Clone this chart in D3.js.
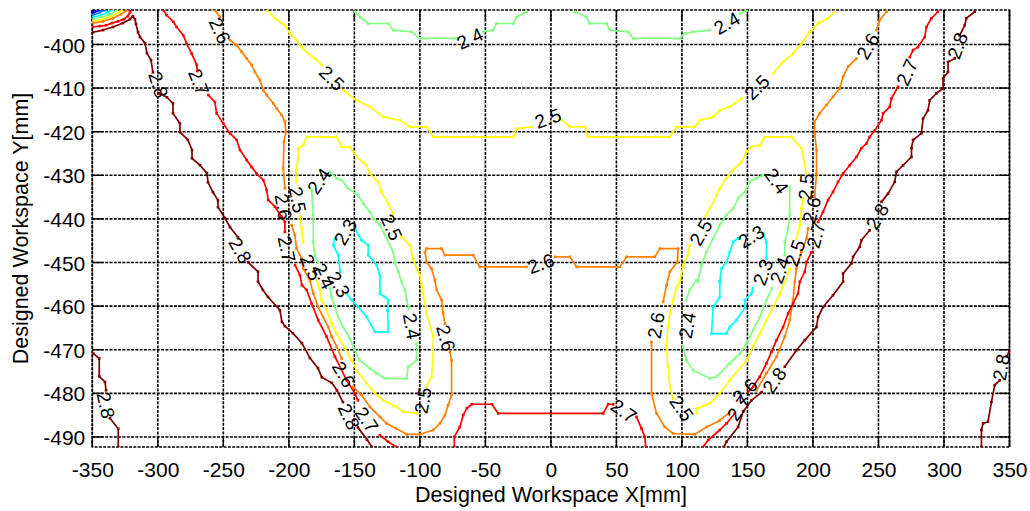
<!DOCTYPE html>
<html><head><meta charset="utf-8">
<script src="https://cdn.jsdelivr.net/npm/d3@7"></script>
<style>
body{margin:0;background:#fff}
text{font-family:"Liberation Sans",Arial,Helvetica,sans-serif;fill:#000}
</style>
</head><body>
<svg id="chart" width="1030" height="511"></svg>
<script>
// Axis ticks
const xTickValues = [-350,-300,-250,-200,-150,-100,-50,0,50,100,150,200,250,300,350];
const yTickValues = [-400,-410,-420,-430,-440,-450,-460,-470,-480,-490];
const xExtent = [-350, 350];
const yExtent = [-492.3, -392.1];
const levelMin = 2.0, levelMax = 2.8;

// Contour lines in workspace coordinates [x mm, y mm]; each line is split into
// pieces where its inline value label sits.
const c20Corner = [[[-349.5,-392.4],[-348.0,-392.1]]];
const c21Corner = [[[-349.5,-392.8],[-344.1,-392.1]]];
const c22Corner = [[[-349.5,-393.3],[-344.1,-392.6],[-339.5,-392.1]]];
const c23Corner = [[[-349.5,-393.7],[-343.4,-393.3],[-338.0,-392.6],[-335.0,-392.1]]];
const c24Corner = [[[-349.5,-394.2],[-342.6,-393.7],[-336.5,-393.1],[-331.2,-392.1]]];
const c25Corner = [[[-349.5,-394.7],[-341.8,-394.2],[-335.0,-393.5],[-329.6,-392.6],[-327.4,-392.1]]];
const c26Corner = [[[-349.5,-395.1],[-341.8,-394.7],[-334.2,-394.0],[-328.1,-393.1],[-323.5,-392.1]]];
const c27Corner = [[[-349.5,-396.0],[-344.1,-395.8],[-339.5,-395.6],[-335.0,-395.1],[-330.4,-394.7],[-325.8,-394.2],[-322.8,-393.5],[-321.2,-392.6],[-320.8,-392.1]]];

const c28Left = [
  [[-349.5,-397.2],[-341.8,-396.7],[-334.2,-396.0],[-326.6,-395.1],[-321.2,-394.2],[-319.0,-393.5],[-317.4,-394.2],[-316.7,-395.3],[-315.1,-397.2],[-313.6,-398.3],[-309.8,-399.7],[-308.3,-402.0],[-305.2,-403.6],[-303.7,-406.4]],
  [[-299.1,-411.2],[-293.0,-412.1],[-288.4,-413.5],[-288.4,-415.8],[-283.1,-418.1],[-283.1,-420.1],[-277.0,-421.9],[-273.9,-424.2],[-273.9,-426.1],[-267.8,-427.7],[-262.5,-429.5],[-261.7,-431.6],[-257.9,-433.9],[-254.1,-435.7],[-254.1,-437.3],[-248.8,-439.8],[-244.9,-441.9],[-238.8,-444.2]],
  [[-231.2,-449.9],[-223.5,-452.1],[-223.5,-454.4],[-219.8,-456.3],[-215.9,-457.9],[-206.8,-460.9],[-205.3,-463.6],[-203.0,-464.6],[-196.9,-466.2],[-190.0,-468.5],[-183.9,-471.9],[-177.8,-474.2],[-174.8,-476.3],[-167.2,-477.6],[-163.3,-479.3],[-158.7,-482.0]],
  [[-147.3,-487.8],[-140.4,-490.6],[-136.6,-492.3]]
];
const c28LeftEdge = [
  [[-349.2,-470.9],[-344.7,-472.0],[-344.7,-476.1],[-340.3,-477.4],[-339.5,-479.3]],
  [[-336.5,-485.7],[-330.2,-488.1],[-330.2,-492.3]]
];
const c28Right = [
  [[323.5,-392.5],[317.1,-394.0],[315.8,-395.6],[312.0,-397.9]],
  [[308.2,-403.2],[303.1,-404.0],[303.1,-406.3],[299.3,-407.8],[299.3,-410.1],[294.2,-411.2],[289.1,-412.8],[287.8,-415.1],[284.0,-417.0],[282.8,-420.4],[276.4,-421.9],[275.2,-423.8],[275.2,-425.8],[268.8,-427.7],[263.7,-429.2],[262.4,-431.5],[257.3,-434.2],[252.3,-436.1]],
  [[243.3,-442.6],[237.0,-444.9],[235.7,-446.4],[230.6,-448.7],[229.4,-450.2],[223.0,-452.5],[223.0,-454.4],[215.3,-457.5],[207.7,-460.2],[203.9,-462.5],[202.7,-464.8],[193.8,-467.8],[187.4,-470.1],[178.5,-473.9]],
  [[160.9,-479.7],[153.1,-481.6],[146.7,-484.2],[142.9,-487.7],[134.0,-491.1],[132.0,-492.3]]
];
const c28RightEdge = [
  [[349.8,-470.3],[348.0,-471.5]],
  [[342.5,-477.0],[338.7,-478.1],[336.2,-482.0],[333.6,-486.5],[329.8,-486.9],[328.6,-488.4],[328.6,-492.3]]
];

const c27Left = [
  [[-295.8,-392.1],[-293.2,-393.3],[-288.2,-394.8],[-285.6,-396.0],[-280.6,-397.9],[-278.0,-399.8],[-274.2,-402.1],[-270.3,-404.7],[-269.9,-406.1]],
  [[-261.5,-411.6],[-256.4,-413.2],[-255.1,-415.8],[-250.1,-418.1],[-244.9,-420.4],[-239.8,-421.9],[-237.3,-424.2],[-232.2,-426.5],[-228.4,-428.1],[-224.6,-429.6],[-219.5,-431.1],[-216.9,-433.4],[-215.7,-435.7],[-210.6,-437.2],[-205.5,-439.5],[-203.0,-440.7],[-203.0,-443.0]],
  [[-195.3,-450.6],[-191.5,-452.9],[-190.0,-455.2],[-186.4,-456.3],[-182.6,-459.4],[-177.6,-463.2],[-171.2,-467.0],[-164.8,-471.6],[-155.9,-477.0],[-149.6,-480.0],[-147.3,-481.6]],
  [[-130.5,-489.6],[-124.2,-491.1],[-117.8,-492.3]]
];
const c27Middle = [
  [[-73.7,-492.3],[-73.7,-490.0],[-69.5,-487.7],[-66.9,-485.0],[-64.1,-483.4],[-60.3,-482.5],[-45.0,-482.5],[-40.2,-484.6],[39.9,-484.6],[43.7,-482.5],[47.5,-482.5]],
  [[65.3,-485.4],[69.2,-488.1],[71.7,-490.0],[72.4,-492.3]]
];
const c27Right = [
  [[295.4,-392.5],[290.4,-394.0],[286.6,-396.0],[285.3,-398.3],[280.2,-400.6],[276.4,-401.3],[273.9,-402.9]],
  [[264.9,-409.7],[259.9,-412.4],[258.6,-414.3],[253.5,-415.8],[252.3,-417.4],[247.2,-419.7],[243.3,-421.2],[240.8,-422.7],[237.0,-423.8],[233.2,-425.8],[228.1,-427.7],[223.0,-429.6],[219.2,-431.5],[215.3,-433.8],[211.5,-435.7],[207.7,-438.4],[203.9,-440.7]],
  [[198.9,-447.6],[195.1,-449.9],[193.8,-452.1],[190.0,-454.4],[188.6,-457.1],[184.8,-459.4],[181.0,-461.7],[177.2,-464.8],[172.2,-467.8],[168.3,-470.5],[164.5,-473.1],[159.4,-476.2],[154.3,-478.5],[150.5,-479.7]],
  [[140.3,-484.6],[134.0,-486.9],[128.9,-488.4],[120.0,-490.7],[116.2,-492.3]]
];

const c26Main = [
  [[-256.4,-392.1],[-252.6,-393.7]],
  [[-244.9,-399.0],[-239.8,-400.2],[-236.0,-401.7],[-232.2,-403.2],[-228.4,-404.7],[-225.9,-406.3],[-222.0,-408.2],[-219.5,-410.5],[-216.9,-411.6],[-211.9,-413.5],[-209.3,-414.7],[-205.5,-416.2],[-203.0,-417.7],[-202.2,-420.0],[-203.7,-422.3],[-204.3,-428.4],[-203.0,-433.0]],
  [[-197.9,-441.4],[-195.4,-443.7],[-194.1,-446.8],[-190.2,-449.1],[-189.0,-451.4],[-183.9,-454.1],[-181.4,-457.1],[-177.6,-460.2],[-173.8,-462.5],[-169.9,-464.8],[-167.3,-467.0],[-163.5,-469.3],[-159.7,-472.0]],
  [[-150.9,-478.5],[-144.5,-480.4],[-138.1,-483.1],[-130.5,-485.4],[-125.4,-486.9],[-117.8,-488.1],[-110.1,-489.4],[-100.0,-489.4],[-89.8,-488.4],[-84.7,-486.9],[-80.9,-485.0],[-78.4,-482.7],[-75.8,-480.4],[-75.8,-472.4],[-77.1,-470.5]],
  [[-80.9,-464.0],[-82.2,-461.7],[-83.4,-458.6],[-87.2,-456.3],[-88.5,-454.1],[-91.1,-451.4],[-94.9,-449.9],[-96.1,-447.6],[-94.9,-446.8],[-83.4,-446.8],[-80.9,-448.3],[-59.3,-448.3],[-54.2,-451.0],[-18.6,-451.0]],
  [[3.1,-448.7],[14.5,-448.7],[19.6,-451.0],[52.6,-451.0],[57.7,-448.7],[79.3,-448.7],[83.2,-446.8],[97.1,-446.8],[96.5,-449.9],[90.8,-452.1],[88.2,-455.2],[85.7,-459.0]],
  [[76.8,-468.2],[76.8,-480.0],[80.6,-484.6],[86.9,-487.7],[93.3,-489.2],[109.8,-489.4],[118.8,-487.7],[128.9,-486.2],[136.5,-484.3]],
  [[156.9,-479.3],[164.5,-475.4],[172.2,-471.6],[178.5,-467.0],[182.3,-463.2],[184.8,-458.6],[186.1,-454.4],[187.4,-451.4],[191.2,-447.6],[195.1,-444.5],[196.3,-442.2]],
  [[201.3,-434.9],[202.7,-429.6],[202.7,-424.2],[201.3,-420.4],[201.3,-417.7],[205.1,-415.8],[210.3,-413.9],[215.3,-412.0],[220.4,-410.1],[223.0,-407.4],[226.8,-405.1],[233.2,-403.2]],
  [[248.5,-396.7],[251.0,-394.4],[256.1,-392.5]]
];

const c25Top = [
  [[-216.9,-392.1],[-210.6,-394.0],[-203.0,-395.6],[-199.2,-397.5],[-194.1,-399.0],[-190.2,-400.6],[-185.2,-402.1],[-180.1,-403.2],[-175.0,-404.7]],
  [[-158.5,-410.5],[-148.3,-412.8],[-138.1,-414.3],[-128.0,-416.6],[-115.2,-417.4],[-107.6,-418.9],[-94.9,-418.9],[-89.8,-421.2],[-28.8,-421.2],[-26.2,-419.3],[-14.8,-418.9]],
  [[6.8,-417.0],[14.5,-418.9],[25.9,-418.9],[28.4,-421.2],[90.8,-421.2],[95.9,-418.9],[109.8,-418.9],[113.6,-417.4],[123.8,-416.6],[128.9,-415.1],[136.5,-414.3],[145.5,-412.4]],
  [[169.6,-406.6],[177.2,-404.0],[184.8,-402.1],[191.2,-399.8],[197.6,-397.1],[203.9,-395.2],[211.5,-394.0],[216.6,-392.5]]
];
const c25LeftLobe = [
  [[-189.0,-445.3],[-190.2,-442.2],[-191.5,-439.5]],
  [[-194.4,-431.5],[-194.6,-428.8],[-192.8,-426.1],[-192.8,-423.8],[-189.0,-423.1],[-186.4,-421.2],[-163.5,-421.2],[-159.7,-423.5],[-153.4,-423.5],[-148.3,-425.8],[-140.6,-427.7],[-138.1,-429.6],[-131.8,-431.5],[-129.2,-433.8],[-124.2,-436.5],[-120.4,-438.8]],
  [[-113.9,-444.1],[-107.6,-446.0],[-105.1,-449.1],[-102.5,-451.4],[-100.0,-452.9],[-98.7,-455.2],[-97.5,-457.1],[-94.9,-461.7],[-89.8,-467.0],[-90.1,-472.4],[-91.1,-476.2],[-94.9,-478.5]],
  [[-102.5,-484.6],[-112.7,-484.2],[-117.8,-483.1],[-128.0,-481.6],[-134.3,-480.0],[-140.6,-477.7],[-148.3,-474.7],[-152.1,-472.4],[-157.2,-469.7],[-163.5,-466.3],[-167.3,-464.0],[-171.2,-460.9],[-175.0,-458.6],[-176.3,-456.3],[-178.8,-454.1]]
];
const c25RightLobe = [
  [[117.5,-439.5],[121.3,-437.6],[126.4,-434.6],[128.9,-433.0],[134.0,-430.7],[139.1,-428.8],[145.5,-426.9],[149.3,-424.6],[153.1,-423.5],[159.4,-423.1],[163.2,-421.2],[183.6,-421.2],[191.2,-423.8],[193.8,-427.7],[195.1,-430.0]],
  [[192.4,-435.3],[191.2,-437.6],[190.0,-441.4],[187.4,-444.5]],
  [[182.3,-451.4],[179.8,-453.7],[174.7,-457.1],[169.6,-460.2],[164.5,-463.2],[159.4,-466.3],[154.3,-469.3],[149.3,-472.4],[136.5,-477.0],[128.9,-480.0],[121.3,-482.3],[111.1,-483.5],[111.1,-484.6]],
  [[93.3,-481.2],[90.8,-478.5],[89.3,-473.9],[88.1,-469.3],[89.3,-464.8],[90.8,-461.7],[93.3,-458.6],[95.9,-455.6],[98.4,-454.4],[100.9,-450.6],[104.7,-448.3],[106.0,-446.0]]
];

const c24Top = [
  [[-149.6,-392.5],[-145.8,-393.7],[-139.4,-395.2],[-124.2,-395.2],[-120.4,-396.7],[-106.3,-397.1],[-100.0,-398.6],[-72.0,-398.6]],
  [[-51.7,-397.1],[-44.1,-396.7],[-41.5,-395.2],[-28.8,-395.2],[-26.2,-393.7],[-18.6,-392.5]],
  [[18.3,-392.5],[27.2,-393.7],[29.7,-395.2],[42.5,-395.2],[45.0,-396.7],[58.9,-397.1],[62.8,-398.6],[98.4,-398.6],[102.2,-397.5],[108.5,-397.1],[121.3,-396.7]],
  [[144.2,-392.9],[149.3,-392.3]]
];
const c24LeftLobe = [
  [[-168.6,-429.2],[-163.5,-430.7],[-159.7,-431.1],[-154.7,-433.0],[-147.1,-434.6],[-143.2,-436.5],[-138.1,-438.4],[-135.6,-439.9],[-130.5,-441.4],[-126.7,-443.7],[-122.9,-446.0],[-120.4,-447.6],[-119.1,-449.9],[-116.5,-452.1],[-113.9,-454.4],[-111.4,-456.3],[-110.1,-458.6],[-108.4,-460.5]],
  [[-102.5,-468.6],[-102.5,-472.4],[-108.9,-473.9],[-110.1,-476.6],[-126.7,-476.6],[-133.0,-475.4],[-138.1,-474.3],[-145.8,-472.4],[-149.6,-470.1],[-153.4,-467.4],[-158.5,-464.8],[-162.3,-462.5],[-164.8,-460.2],[-167.3,-457.9],[-168.6,-455.9]],
  [[-177.8,-449.9],[-180.1,-448.3],[-181.4,-445.3],[-181.4,-439.1],[-182.6,-433.4]]
];
const c24RightLobe = [
  [[112.3,-454.4],[114.9,-450.6],[118.8,-447.6],[123.8,-444.5],[128.9,-441.4],[134.0,-439.1],[139.1,-437.6],[142.9,-435.3],[148.0,-433.8],[151.8,-431.5],[156.9,-430.7],[161.9,-430.0]],
  [[182.3,-432.7],[182.3,-439.1],[181.0,-442.2],[178.5,-445.3],[178.5,-448.3]],
  [[168.6,-455.9],[164.5,-458.6],[159.4,-462.5],[154.3,-465.5],[149.3,-468.6],[144.2,-470.9],[136.5,-473.1],[126.4,-476.2],[121.3,-476.6],[108.5,-474.7],[103.4,-472.4],[100.9,-469.3]],
  [[103.4,-458.6],[105.9,-456.3],[111.1,-454.0],[112.3,-454.4]]
];

const c23LeftLobe = [
  [[-149.6,-442.2],[-144.5,-444.9],[-139.4,-446.0],[-139.4,-448.3],[-133.0,-450.6],[-130.5,-452.9],[-130.5,-457.1],[-126.7,-457.9],[-124.2,-458.6],[-124.6,-461.0],[-124.2,-465.9],[-134.3,-465.9],[-140.6,-462.5],[-147.1,-460.2],[-152.1,-458.6],[-155.9,-457.1]],
  [[-160.8,-452.1],[-162.3,-448.3],[-166.1,-446.0],[-164.8,-444.5]]
];
const c23RightLobe = [
  [[128.9,-454.4],[130.2,-451.4],[134.0,-449.9],[136.5,-447.6],[139.1,-445.3],[142.9,-444.5]],
  [[161.9,-443.3],[164.5,-445.3],[164.5,-449.1]],
  [[154.1,-455.9],[153.1,-457.1],[148.0,-458.6],[148.0,-460.5],[141.6,-463.2],[136.5,-464.8],[134.0,-466.3],[122.6,-466.3],[123.8,-460.2],[128.9,-457.9],[128.9,-454.4]]
];

const contourLines = [
  {level: 2.0, pieces: c20Corner},
  {level: 2.1, pieces: c21Corner},
  {level: 2.2, pieces: c22Corner},
  {level: 2.3, pieces: c23Corner},
  {level: 2.3, pieces: c23LeftLobe},
  {level: 2.3, pieces: c23RightLobe},
  {level: 2.4, pieces: c24Corner},
  {level: 2.4, pieces: c24Top},
  {level: 2.4, pieces: c24LeftLobe},
  {level: 2.4, pieces: c24RightLobe},
  {level: 2.5, pieces: c25Corner},
  {level: 2.5, pieces: c25Top},
  {level: 2.5, pieces: c25LeftLobe},
  {level: 2.5, pieces: c25RightLobe},
  {level: 2.6, pieces: c26Corner},
  {level: 2.6, pieces: c26Main},
  {level: 2.7, pieces: c27Corner},
  {level: 2.7, pieces: c27Left},
  {level: 2.7, pieces: c27Middle},
  {level: 2.7, pieces: c27Right},
  {level: 2.8, pieces: c28Left},
  {level: 2.8, pieces: c28LeftEdge},
  {level: 2.8, pieces: c28Right},
  {level: 2.8, pieces: c28RightEdge}
];

// Inline labels: [x, y, text angle in degrees, value]
const contourLabels = [
  [-299.5,-409.2, 72, 2.8], [-237.0,-447.2, 60, 2.8], [-154.0,-485.3, 65, 2.8], [-339.5,-482.7, 78, 2.8],
  [310.2,-400.3, -70, 2.8], [249.0,-439.4, -60, 2.8], [170.5,-477.0, -55, 2.8], [343.5,-474.0, -80, 2.8],
  [-268.6,-408.6, 68, 2.7], [-201.5,-446.9, 78, 2.7], [-140.4,-486.0, 55, 2.7], [55.7,-484.0, 35, 2.7],
  [271.6,-406.4, -65, 2.7], [202.1,-443.7, -75, 2.7], [143.3,-483.3, -55, 2.7],
  [-252.6,-396.8, 65, 2.6], [-204.0,-437.2, 80, 2.6], [-158.0,-475.6, 60, 2.6], [-80.0,-467.3, 75, 2.6],
  [-7.7,-450.2, -20, 2.6], [80.1,-464.4, -80, 2.6], [147.9,-479.4, -45, 2.6], [198.9,-437.9, -75, 2.6], [241.8,-400.4, -60, 2.6],
  [-167.1,-407.7, 45, 2.5], [-2.3,-416.9, -20, 2.5], [157.1,-409.8, -45, 2.5],
  [-193.2,-435.6, 80, 2.5], [-121.5,-441.9, 65, 2.5], [-97.7,-481.6, -80, 2.5], [-183.1,-451.1, 65, 2.5],
  [194.5,-432.6, -85, 2.5], [186.2,-447.8, -70, 2.5], [99.9,-483.4, 55, 2.5], [114.4,-443.1, -60, 2.5],
  [-61.8,-398.6, -25, 2.4], [134.2,-395.1, -30, 2.4],
  [-106.1,-464.6, 80, 2.4], [-173.2,-453.1, 65, 2.4], [-177.0,-431.3, -55, 2.4],
  [172.4,-431.3, 55, 2.4], [174.7,-451.8, -70, 2.4], [104.0,-464.4, -80, 2.4],
  [-161.8,-455.0, 60, 2.3], [-157.0,-443.0, -60, 2.3], [153.0,-444.0, -30, 2.3], [161.7,-452.2, -70, 2.3]
];

// jet colormap used for the contour levels
function jet(t) {
  const c = v => Math.round(255 * Math.max(0, Math.min(1, v)));
  return `rgb(${c(1.5 - Math.abs(4 * t - 3))},${c(1.5 - Math.abs(4 * t - 2))},${c(1.5 - Math.abs(4 * t - 1))})`;
}
const levelColor = lv => jet((lv - levelMin) / (levelMax - levelMin));

const svg = d3.select("#chart");
svg.append("rect").attr("width", 1030).attr("height", 511).attr("fill", "#fff");

const plot = {left: 92.3, right: 1009.5, top: 10, bottom: 447};
const x = d3.scaleLinear().domain(xExtent).range([plot.left, plot.right]);
const y = d3.scaleLinear().domain(yExtent).range([plot.bottom, plot.top]);

svg.append("clipPath").attr("id", "plotClip")
  .append("rect").attr("x", plot.left).attr("y", plot.top)
  .attr("width", plot.right - plot.left).attr("height", plot.bottom - plot.top);

// dotted grid
const grid = svg.append("g").attr("stroke", "#000").attr("stroke-width", 1.6)
  .attr("stroke-dasharray", "3,1.3").attr("fill", "none");
grid.selectAll("line.gx").data(xTickValues).join("line").attr("class", "gx")
  .attr("x1", d => x(d)).attr("x2", d => x(d)).attr("y1", plot.top).attr("y2", plot.bottom);
grid.selectAll("line.gy").data(yTickValues).join("line").attr("class", "gy")
  .attr("y1", d => y(d)).attr("y2", d => y(d)).attr("x1", plot.left).attr("x2", plot.right);
grid.append("rect").attr("x", plot.left).attr("y", plot.top)
  .attr("width", plot.right - plot.left).attr("height", plot.bottom - plot.top);

// inward tick marks
const ticks = svg.append("g").attr("stroke", "#000").attr("stroke-width", 1.4);
const tl = 11;
ticks.selectAll("line.tb").data(xTickValues).join("line").attr("class", "tb")
  .attr("x1", d => x(d)).attr("x2", d => x(d)).attr("y1", plot.bottom).attr("y2", plot.bottom - tl);
ticks.selectAll("line.tt").data(xTickValues).join("line").attr("class", "tt")
  .attr("x1", d => x(d)).attr("x2", d => x(d)).attr("y1", plot.top).attr("y2", plot.top + tl);
ticks.selectAll("line.tl").data(yTickValues).join("line").attr("class", "tl")
  .attr("y1", d => y(d)).attr("y2", d => y(d)).attr("x1", plot.left).attr("x2", plot.left + tl);
ticks.selectAll("line.tr").data(yTickValues).join("line").attr("class", "tr")
  .attr("y1", d => y(d)).attr("y2", d => y(d)).attr("x1", plot.right).attr("x2", plot.right - tl);

// axes labels through d3 axes (domain/tick lines hidden, gridlines drawn above)
const plainNumber = d => String(d);
const xAxis = d3.axisBottom(x).tickValues(xTickValues).tickSize(0).tickPadding(10).tickFormat(plainNumber);
const yAxis = d3.axisLeft(y).tickValues(yTickValues).tickSize(0).tickPadding(7).tickFormat(plainNumber);
const gx = svg.append("g").attr("transform", `translate(0,${plot.bottom})`).call(xAxis);
const gy = svg.append("g").attr("transform", `translate(${plot.left},0)`).call(yAxis);
[gx, gy].forEach(g => {
  g.select(".domain").remove();
  g.selectAll("text").attr("font-size", 21).attr("fill", "#000")
    .attr("font-family", '"Liberation Sans", Arial, sans-serif');
});
gx.selectAll("text").attr("dy", "0.95em");
gy.selectAll("text").attr("dy", "0.36em");

svg.append("text").attr("x", (plot.left + plot.right) / 2).attr("y", 502)
  .attr("text-anchor", "middle").attr("font-size", 21.5).text("Designed Workspace X[mm]");
svg.append("text").attr("transform", `translate(28,${(plot.top + plot.bottom) / 2}) rotate(-90)`)
  .attr("text-anchor", "middle").attr("font-size", 21.5).text("Designed Workspace Y[mm]");

// contour lines
const lineGen = d3.line().x(d => x(d[0])).y(d => y(d[1]));
const cg = svg.append("g").attr("clip-path", "url(#plotClip)");
contourLines.forEach(cl => {
  const col = levelColor(cl.level);
  const g = cg.append("g");
  g.selectAll("path").data(cl.pieces).join("path")
    .attr("d", lineGen).attr("fill", "none").attr("stroke", col)
    .attr("stroke-width", 1.7).attr("stroke-linejoin", "round");
  g.selectAll("rect").data(cl.pieces.flat()).join("rect")
    .attr("x", d => x(d[0]) - 1.3).attr("y", d => y(d[1]) - 1.3)
    .attr("width", 2.6).attr("height", 2.6).attr("fill", col);
});

// inline labels
svg.append("g").selectAll("text").data(contourLabels).join("text")
  .attr("transform", d => `translate(${x(d[0])},${y(d[1])}) rotate(${d[2]})`)
  .attr("text-anchor", "middle").attr("dy", "0.36em").attr("font-size", 19)
  .text(d => d3.format(".1f")(d[3]));
</script>
</body></html>
